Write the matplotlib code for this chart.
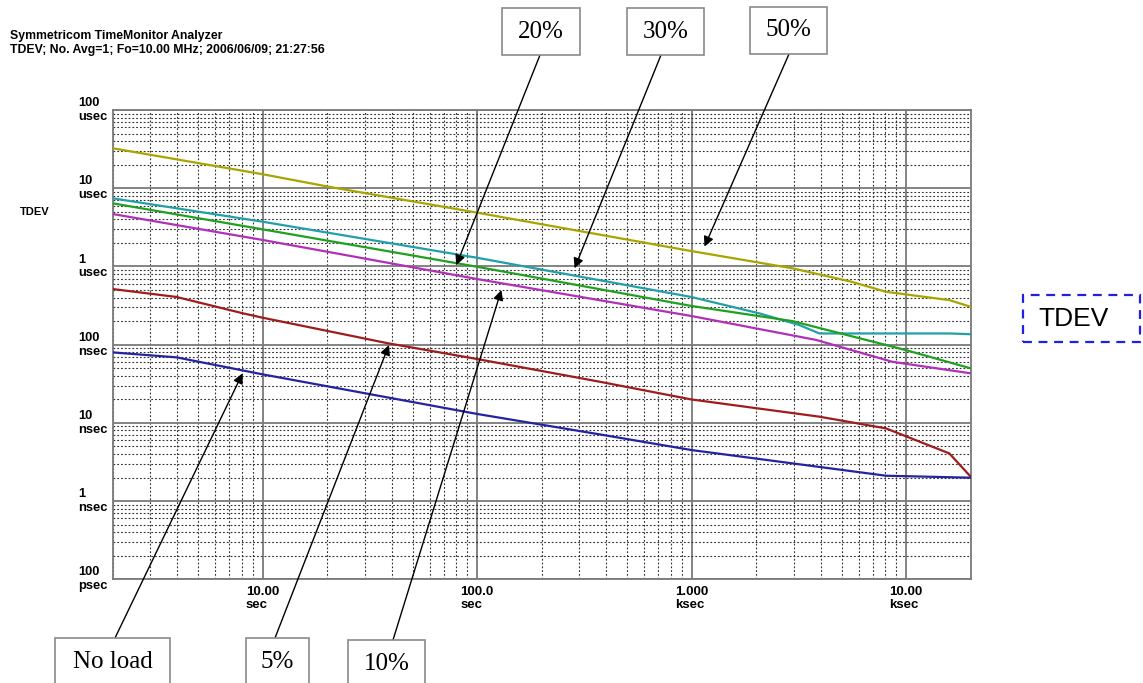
import matplotlib
matplotlib.use('Agg')
import matplotlib.pyplot as plt
from matplotlib.patches import Rectangle
from matplotlib.ticker import LogLocator, NullFormatter

W, H = 1143, 683

# tau (s) and TDEV (s)
tau_50 = [2, 10, 20.3, 100, 1000, 2950, 5530, 8050, 15900, 20000]
tdev_50 = [3.24e-5, 1.51e-5, 1.045e-5, 4.87e-6, 1.57e-6, 9.46e-7, 6.4e-7, 4.74e-7, 3.71e-7, 3.05e-7]

tau_20 = [2, 10, 100, 1000, 2070, 3180, 3940, 15900, 20000]
tdev_20 = [7.43e-6, 3.73e-6, 1.29e-6, 4.06e-7, 2.51e-7, 1.78e-7, 1.39e-7, 1.39e-7, 1.36e-7]

tau_30 = [2, 10, 100, 1000, 2950, 8050, 10000, 20000]
tdev_30 = [6.41e-6, 2.98e-6, 9.9e-7, 3.12e-7, 2.0e-7, 9.9e-8, 8.5e-8, 4.98e-8]

tau_10 = [2, 10, 100, 1000, 3800, 8610, 20000]
tdev_10 = [4.68e-6, 2.18e-6, 6.9e-7, 2.32e-7, 1.15e-7, 6.04e-8, 4.3e-8]

tau_5 = [2, 3.97, 8.12, 10, 37.8, 100, 372, 1000, 3940, 8050, 15900, 20000]
tdev_5 = [5.14e-7, 4.07e-7, 2.51e-7, 2.21e-7, 1.05e-7, 6.55e-8, 3.36e-8, 1.99e-8, 1.2e-8, 8.5e-9, 4.07e-9, 2.05e-9]

tau_0 = [2, 3.97, 10, 100, 372, 1000, 8050, 20000]
tdev_0 = [7.96e-8, 6.88e-8, 4.17e-8, 1.30e-8, 7.13e-9, 4.49e-9, 2.11e-9, 1.99e-9]

y_ticks = [1e-4, 1e-5, 1e-6, 1e-7, 1e-8, 1e-9, 1e-10]
y_labels = ['100\nusec', '10\nusec', '1\nusec', '100\nnsec', '10\nnsec', '1\nnsec', '100\npsec']
x_ticks = [10, 100, 1000, 10000]
x_labels = ['10.00\nsec', '100.0\nsec', '1.000\nksec', '10.00\nksec']

# callouts: label, box (px), arrow tail (px), arrow tip (tau, tdev)
call_labels = ['No load', '5%', '10%', '20%', '30%', '50%']
call_boxes = [(55, 638, 170, 690), (246, 638, 309, 690), (348, 640, 425, 690),
              (502, 8, 580, 55), (627, 8, 704, 55), (750, 7, 827, 54)]
call_tails = [(115, 638), (275, 638), (393, 640), (540, 55), (661, 55), (789, 54)]
call_tips = [(8.06, 4.3e-8), (38.8, 9.9e-8), (129.7, 4.99e-7),
             (80, 1.04e-6), (284.6, 9.47e-7), (1148, 1.79e-6)]

fig = plt.figure(figsize=(W / 100, H / 100), dpi=100)
ax = fig.add_axes([112.7 / W, 1 - 579.3 / H, (970.7 - 112.7) / W, (579.3 - 110) / H])
ax.set_xscale('log')
ax.set_yscale('log')

ax.plot(tau_50, tdev_50, color='#a8a400', lw=1.6, zorder=3)
ax.plot(tau_20, tdev_20, color='#20a0a8', lw=1.6, zorder=3)
ax.plot(tau_30, tdev_30, color='#20a020', lw=1.6, zorder=3)
ax.plot(tau_10, tdev_10, color='#b030b8', lw=1.6, zorder=3)
ax.plot(tau_5, tdev_5, color='#a01c1c', lw=1.6, zorder=3)
ax.plot(tau_0, tdev_0, color='#2424a0', lw=1.6, zorder=3)

ax.set_xlim(2, 20000)
ax.set_ylim(1e-10, 1e-4)

ax.xaxis.set_minor_locator(LogLocator(base=10, subs=range(2, 10), numticks=20))
ax.yaxis.set_minor_locator(LogLocator(base=10, subs=range(2, 10), numticks=20))
ax.xaxis.set_minor_formatter(NullFormatter())
ax.yaxis.set_minor_formatter(NullFormatter())
ax.grid(which='major', color='#7a7a7a', lw=1.3, ls='-')
ax.grid(which='minor', color='#303030', lw=0.8, ls=(0, (1.6, 1.8)))
ax.set_axisbelow(True)
for s in ax.spines.values():
    s.set_color('#7a7a7a')
    s.set_linewidth(1.3)

ax.set_xticks(x_ticks)
ax.set_xticklabels(x_labels, fontsize=9.5, fontweight='bold', family='Liberation Sans',
                   multialignment='left', linespacing=1.1)
ax.set_yticks(y_ticks)
ax.set_yticklabels([])
ax.tick_params(which='both', length=0)
ax.tick_params(axis='x', pad=5)
for v, lab in zip(y_ticks, y_labels):
    ax.annotate(lab, xy=(0, v), xycoords=('axes fraction', 'data'),
                xytext=(-25, 0), textcoords='offset points', ha='left', va='center',
                fontsize=9.3, fontweight='bold', family='Liberation Sans', linespacing=1.2)

fig.text(10 / W, 1 - 36 / H, 'Symmetricom TimeMonitor Analyzer', fontsize=8.8,
         fontweight='bold', family='Liberation Sans', va='center')
fig.text(10 / W, 1 - 50 / H, 'TDEV; No. Avg=1; Fo=10.00 MHz; 2006/06/09; 21:27:56',
         fontsize=8.8, fontweight='bold', family='Liberation Sans', va='center')
fig.text(20 / W, 1 - 212 / H, 'TDEV', fontsize=8, fontweight='bold',
         family='Liberation Sans', va='center')

for lab, (x0, y0, x1, y1), (tx, ty), tip in zip(call_labels, call_boxes, call_tails, call_tips):
    fig.add_artist(Rectangle((x0 / W, 1 - y1 / H), (x1 - x0) / W, (y1 - y0) / H,
                             transform=fig.transFigure, fill=True, facecolor='white',
                             edgecolor='#8a8a8a', lw=1.2))
    cy = (y0 + min(y1, y0 + 47)) / 2
    fig.text((x0 + x1) / 2 / W, 1 - cy / H, lab, fontsize=18, family='Liberation Serif',
             ha='center', va='center')
    ax.annotate('', xy=tip, xycoords='data', xytext=(tx / W, 1 - ty / H),
                textcoords='figure fraction', annotation_clip=False,
                arrowprops=dict(arrowstyle='-|>', color='black', lw=1.0,
                                mutation_scale=15, shrinkA=0, shrinkB=0), zorder=5)

fig.add_artist(Rectangle((1023 / W, 1 - 342 / H), (1140 - 1023) / W, (342 - 295) / H,
                         transform=fig.transFigure, fill=False, edgecolor='#1f1fe6',
                         lw=1.6, ls=(0, (4, 3))))
fig.text(1074 / W, 1 - 319 / H, 'TDEV', fontsize=19, family='Liberation Sans',
         ha='center', va='center')

fig.savefig('out.png', dpi=100)
